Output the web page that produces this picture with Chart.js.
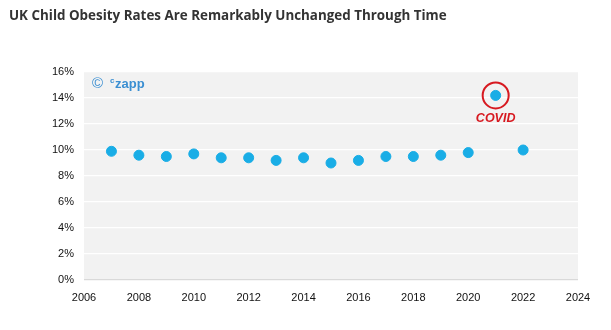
<!DOCTYPE html>
<html>
<head>
<meta charset="utf-8">
<script src="https://cdn.jsdelivr.net/npm/chart.js@4/dist/chart.umd.min.js"></script>
<style>
  html, body { margin: 0; padding: 0; background: #fff; }
  #wrap { width: 611px; height: 330px; position: relative; }
</style>
</head>
<body>
<div id="wrap"><canvas id="chart"></canvas></div>
<script>
// --- data ---
const years = [2007, 2008, 2009, 2010, 2011, 2012, 2013, 2014, 2015, 2016, 2017, 2018, 2019, 2020, 2021, 2022];
const obesityRates = [9.9, 9.6, 9.5, 9.7, 9.4, 9.4, 9.2, 9.4, 9.0, 9.2, 9.5, 9.5, 9.6, 9.8, 14.2, 10.0];
const covidPoint = { year: 2021, value: 14.2, label: 'COVID' };
const titleText = 'UK Child Obesity Rates Are Remarkably Unchanged Through Time';

const FONT = '"Liberation Sans", Arial, sans-serif';
const BLUE = '#19ade6';
const RED = '#d71920';

// draws the grey plot background, title, watermark and the covid marker
const decorations = {
    id: 'decorations',
    beforeDraw(chart) {
        const { ctx, chartArea: a } = chart;
        ctx.save();
        ctx.fillStyle = '#f2f2f2';
        ctx.fillRect(a.left, a.top, a.right - a.left, a.bottom - a.top);
        ctx.restore();
    },
    afterDraw(chart) {
        const { ctx, chartArea: a, scales } = chart;
        ctx.save();

        // title
        ctx.fillStyle = '#333';
        ctx.font = 'bold 13.4px "Open Sans", sans-serif';
        ctx.textBaseline = 'middle';
        ctx.textAlign = 'left';
        ctx.fillText(titleText, 9, 16);

        // watermark
        ctx.fillStyle = '#3b8fd2';
        ctx.font = '15px ' + FONT;
        ctx.fillText('\u00a9', a.left + 8, 84);
        ctx.font = 'bold 8px ' + FONT;
        ctx.fillText('c', a.left + 26, 81);
        ctx.font = 'bold 13px ' + FONT;
        ctx.fillText('zapp', a.left + 31, 84);

        // covid ring + label
        const cx = scales.x.getPixelForValue(covidPoint.year);
        const cy = scales.y.getPixelForValue(covidPoint.value);
        ctx.strokeStyle = RED;
        ctx.lineWidth = 2;
        ctx.beginPath();
        ctx.arc(cx, cy, 13, 0, Math.PI * 2);
        ctx.stroke();
        ctx.fillStyle = RED;
        ctx.font = 'italic bold 12.5px ' + FONT;
        ctx.textAlign = 'center';
        ctx.fillText(covidPoint.label, cx, cy + 23);

        ctx.restore();
    }
};

new Chart(document.getElementById('chart'), {
    type: 'scatter',
    data: {
        datasets: [{
            data: years.map((y, i) => ({ x: y, y: obesityRates[i] })),
            backgroundColor: BLUE,
            borderColor: BLUE,
            pointRadius: 5,
            pointHoverRadius: 5,
        }]
    },
    options: {
        responsive: true,
        maintainAspectRatio: false,
        animation: false,
        layout: { padding: { left: 0, right: 33, top: 72, bottom: 0 } },
        plugins: { legend: { display: false }, tooltip: { enabled: false } },
        scales: {
            x: {
                type: 'linear',
                min: 2006,
                max: 2024,
                ticks: {
                    stepSize: 2,
                    color: '#111',
                    font: { family: FONT, size: 11 },
                    padding: 3,
                    callback: v => String(v),
                },
                grid: { display: false },
                border: { display: false },
                afterFit: s => { s.height = 50; },
            },
            y: {
                min: 0,
                max: 16,
                ticks: {
                    stepSize: 2,
                    color: '#111',
                    font: { family: FONT, size: 11 },
                    padding: 10,
                    callback: v => v + '%',
                },
                grid: {
                    color: c => c.tick && c.tick.value === 0 ? '#d9d9d9' : '#ffffff',
                    lineWidth: 1.2,
                    drawTicks: false,
                },
                border: { display: false },
                afterFit: s => { s.width = 84; },
            }
        }
    },
    plugins: [decorations]
});
</script>
</body>
</html>
